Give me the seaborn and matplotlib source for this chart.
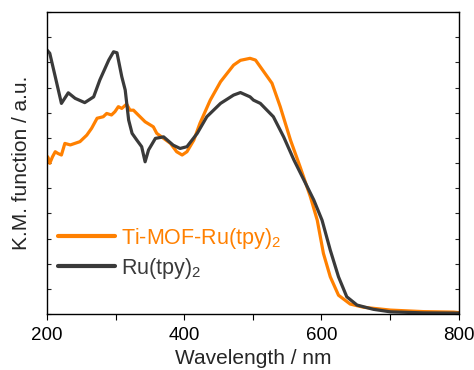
import matplotlib
matplotlib.use("Agg")
import matplotlib.pyplot as plt
import seaborn as sns
import pandas as pd

# Ru(tpy)2 (dark grey)
ru_wl = [200, 204, 212, 221, 231, 241, 255, 268, 277, 290, 297, 302, 309, 314, 319, 324,
         331, 338, 343, 348, 358, 370, 384, 394, 404, 419, 433, 453, 472, 482, 496, 501,
         511, 530, 545, 560, 577, 589, 601, 613, 625, 637, 652, 676, 701, 749, 800]
ru_km = [10.49, 10.36, 9.43, 8.37, 8.79, 8.57, 8.40, 8.63, 9.30, 10.09, 10.42, 10.38, 9.43,
         8.90, 7.71, 7.18, 6.91, 6.65, 6.05, 6.52, 6.98, 7.04, 6.71, 6.58, 6.65, 7.18, 7.84,
         8.37, 8.70, 8.80, 8.63, 8.50, 8.37, 7.84, 7.04, 6.12, 5.19, 4.53, 3.73, 2.54, 1.48,
         0.69, 0.36, 0.19, 0.09, 0.05, 0.04]

# Ti-MOF-Ru(tpy)2 (orange)
mof_wl = [200, 201, 204, 208, 212, 216, 221, 226, 234, 248, 258, 265, 273, 282, 287, 294,
          299, 304, 309, 316, 321, 326, 333, 343, 355, 360, 370, 380, 389, 397, 404, 414,
          423, 438, 453, 472, 482, 496, 504, 516, 528, 540, 555, 569, 584, 594, 603, 613,
          625, 642, 662, 701, 749, 793, 800]
mof_km = [6.12, 6.25, 5.99, 6.25, 6.45, 6.38, 6.32, 6.78, 6.72, 6.85, 7.11, 7.38, 7.78,
          7.84, 7.97, 7.91, 8.04, 8.24, 8.17, 8.34, 8.10, 8.10, 7.91, 7.64, 7.44, 7.18,
          6.98, 6.78, 6.45, 6.32, 6.45, 6.91, 7.58, 8.50, 9.23, 9.89, 10.08, 10.16, 10.09,
          9.63, 9.17, 8.24, 6.91, 5.85, 4.66, 3.73, 2.41, 1.48, 0.75, 0.40, 0.27, 0.16,
          0.10, 0.08, 0.06]

series_names = ["Ti-MOF-Ru(tpy)$_2$", "Ru(tpy)$_2$"]
x_ticks = [200, 400, 600, 800]

df = pd.concat([
    pd.DataFrame({"wl": mof_wl, "km": mof_km, "sample": series_names[0]}),
    pd.DataFrame({"wl": ru_wl, "km": ru_km, "sample": series_names[1]}),
])

sns.set_style("ticks")
plt.rcParams["font.family"] = ["Liberation Sans", "DejaVu Sans"]
plt.rcParams["mathtext.fontset"] = "custom"
plt.rcParams["mathtext.rm"] = "Liberation Sans"
plt.rcParams["mathtext.it"] = "Liberation Sans:italic"

colors = {series_names[0]: "#ff8000", series_names[1]: "#3a3a3a"}

fig = plt.figure(figsize=(4.74, 3.70), dpi=100)
ax = fig.add_axes([0.0992, 0.151, 0.8682, 0.8166])

sns.lineplot(data=df, x="wl", y="km", hue="sample", palette=colors, ax=ax,
             linewidth=2.3, sort=False, estimator=None)

ax.set_xlim(200, 800)
ax.set_ylim(0, 12)
ax.set_xticks(x_ticks)
ax.set_xticks([300, 500, 700], minor=True)
ax.set_yticks(range(0, 13))
ax.set_yticklabels([])
ax.tick_params(axis="x", which="both", direction="out", length=4, width=0.8,
               labelsize=13.5, colors="black", pad=5)
ax.tick_params(axis="y", which="both", direction="in", length=3, width=0.8,
               right=True)
for side in ["top", "right", "left", "bottom"]:
    ax.spines[side].set_visible(True)
    ax.spines[side].set_linewidth(1.0)
    ax.spines[side].set_color("black")

ax.set_xlabel("Wavelength / nm", fontsize=15, labelpad=4)
ax.set_ylabel("K.M. function / a.u.", fontsize=15, labelpad=8)

leg = ax.legend(loc="lower left", bbox_to_anchor=(-0.01, 0.06), frameon=False,
                fontsize=15.5, handlelength=2.65, handletextpad=0.27, labelspacing=0.25,
                borderaxespad=0.3)
for txt, line in zip(leg.get_texts(), leg.get_lines()):
    txt.set_color(line.get_color())
    line.set_linewidth(3.0)

fig.savefig("out.png", dpi=100)
